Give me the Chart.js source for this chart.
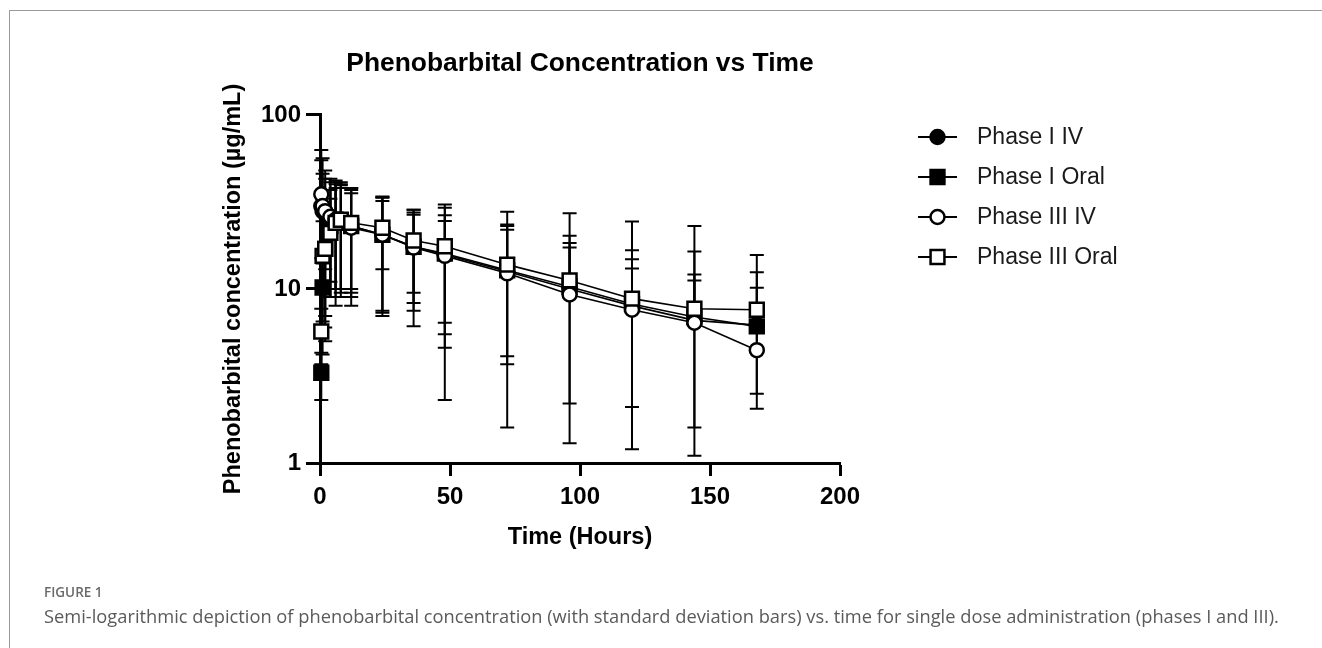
<!DOCTYPE html>
<html>
<head>
<meta charset="utf-8">
<script src="https://cdn.jsdelivr.net/npm/chart.js@4.4.1/dist/chart.umd.min.js"></script>
<style>
  html, body { margin: 0; padding: 0; background: #fff; }
  #wrap { position: relative; width: 1322px; height: 648px; overflow: hidden; }
  #frame { position: absolute; left: 9px; top: 10px; width: 1320px; height: 650px;
           border-top: 1.5px solid #9a9a9a; border-left: 1.5px solid #9a9a9a; }
  #chart { position: absolute; left: 0; top: 0; }
  #fig { position: absolute; left: 44px; top: 583px; font: 600 13.5px "Open Sans", sans-serif; color: #6a6a6a; }
  #cap { position: absolute; left: 44px; top: 603px; font: 18.3px "Open Sans", sans-serif; color: #5a5a5a; white-space: nowrap; }
</style>
</head>
<body>
<div id="wrap">
  <div id="frame"></div>
  <canvas id="chart" width="1322" height="648"></canvas>
  <div id="fig">FIGURE 1</div>
  <div id="cap">Semi-logarithmic depiction of phenobarbital concentration (with standard deviation bars) vs. time for single dose administration (phases I and III).</div>
</div>
<script>
// ---------- data ----------
const timeHours = [0.5, 1, 2, 4, 6, 8, 12, 24, 36, 48, 72, 96, 120, 144, 168];
const seriesNames = ['Phase I IV', 'Phase I Oral', 'Phase III IV', 'Phase III Oral'];

const phase1IVMean   = [30, 28, 27, 26, 25, 25, 23, 20.5, 17.5, 15.8, 12.6, 10.0, 8.0, 6.6, 6.2];
const phase1IVSD     = [33, 28.5, 21, 17, 17, 16, 15, 13.2, 9.2, 13.5, 15.2, 10.2, 6.8, 5.5, 6.3];

const phase1OralMean = [3.3, 10.2, 17, 23, 25, 24.5, 23, 20.5, 17.5, 16.0, 12.8, 10.3, 8.2, 6.9, 6.1];
const phase1OralSD   = [1.0, 6, 12, 14, 16, 15, 14, 13.5, 10, 10.5, 9.1, 8.1, 8.5, 9.5, 4.05];

const phase3IVMean   = [35, 30, 28, 26, 25, 24, 22.5, 20.5, 17.3, 15.5, 12.3, 9.3, 7.6, 6.4, 4.45];
const phase3IVSD     = [20, 16, 15, 15, 15, 14, 13, 13, 11.2, 9.1, 10.7, 8.0, 5.5, 4.8, 1.95];

const phase3OralMean = [5.7, 15.5, 17, 21, 24, 25, 24, 22.5, 19, 17.6, 13.8, 11.2, 8.8, 7.7, 7.6];
const phase3OralSD   = [2, 9, 10, 12, 14, 15, 14, 9.5, 9.5, 13, 9.7, 16, 15.6, 15.3, 8.1];

const xTickValues = [0, 50, 100, 150, 200];
const xTickLabels = ['0', '50', '100', '150', '200'];
const yTickValues = [1, 10, 100];
const yTickLabels = ['1', '10', '100'];

// ---------- styling ----------
const FONT = '"Liberation Sans", Arial, Helvetica, sans-serif';
const markerStyles = [
  { pointStyle: 'circle', radius: 7,   fill: '#000000' },
  { pointStyle: 'rect',   radius: 9.8, fill: '#000000' },
  { pointStyle: 'circle', radius: 7,   fill: '#ffffff' },
  { pointStyle: 'rect',   radius: 9.8, fill: '#ffffff' }
];
const meanSets = [phase1IVMean, phase1OralMean, phase3IVMean, phase3OralMean];
const sdSets   = [phase1IVSD, phase1OralSD, phase3IVSD, phase3OralSD];

const datasets = seriesNames.map((name, k) => ({
  label: name,
  data: timeHours.map((t, i) => ({ x: t, y: meanSets[k][i] })),
  sd: sdSets[k],
  order: 3 - k,
  clip: false,
  showLine: true,
  tension: 0,
  borderColor: '#000',
  borderWidth: 1.6,
  pointStyle: markerStyles[k].pointStyle,
  pointRadius: markerStyles[k].radius,
  pointHoverRadius: markerStyles[k].radius,
  pointBackgroundColor: markerStyles[k].fill,
  pointBorderColor: '#000',
  pointBorderWidth: 2.5,
  fill: false
}));

// error bars (mean ± SD) drawn through the chart scales
const errorBars = {
  id: 'errorBars',
  beforeDatasetsDraw(chart) {
    const { ctx, chartArea: a, scales: { x, y } } = chart;
    ctx.save();
    ctx.beginPath();
    ctx.rect(a.left - 30, a.top - 5, a.right - a.left + 60, a.bottom - a.top + 5);
    ctx.clip();
    ctx.strokeStyle = '#000';
    ctx.lineWidth = 2;
    const cap = 7;
    chart.data.datasets.forEach(ds => {
      ds.data.forEach((p, i) => {
        const s = ds.sd[i];
        const px = x.getPixelForValue(p.x);
        const pm = y.getPixelForValue(p.y);
        const pu = y.getPixelForValue(p.y + s);
        ctx.beginPath();
        ctx.moveTo(px, pm); ctx.lineTo(px, pu);
        ctx.moveTo(px - cap, pu); ctx.lineTo(px + cap, pu);
        if (p.y - s > 0) {
          const pl = y.getPixelForValue(p.y - s);
          ctx.moveTo(px, pm); ctx.lineTo(px, pl);
          ctx.moveTo(px - cap, pl); ctx.lineTo(px + cap, pl);
        }
        ctx.stroke();
      });
    });
    ctx.restore();
  }
};

function drawMarker(ctx, st, cx, cy) {
  ctx.beginPath();
  if (st.pointStyle === 'circle') {
    ctx.arc(cx, cy, st.radius, 0, Math.PI * 2);
  } else {
    const h = st.radius * Math.SQRT1_2;
    ctx.rect(cx - h, cy - h, 2 * h, 2 * h);
  }
  ctx.fillStyle = st.fill;
  ctx.fill();
  ctx.lineWidth = 2.5;
  ctx.strokeStyle = '#000';
  ctx.stroke();
}

// legend at the right: line + marker + label
const sideLegend = {
  id: 'sideLegend',
  afterDraw(chart) {
    const ctx = chart.ctx;
    const x0 = 918, x1 = 957, tx = 977, top = 137, gap = 40;
    ctx.save();
    chart.data.datasets.forEach((ds, k) => {
      const cy = top + k * gap;
      ctx.beginPath();
      ctx.moveTo(x0, cy); ctx.lineTo(x1, cy);
      ctx.lineWidth = 2; ctx.strokeStyle = '#000'; ctx.stroke();
      drawMarker(ctx, markerStyles[k], (x0 + x1) / 2, cy);
      ctx.font = '23px ' + FONT;
      ctx.fillStyle = '#1a1a1a';
      ctx.textBaseline = 'middle';
      ctx.textAlign = 'left';
      ctx.fillText(ds.label, tx, cy + 1);
    });
    ctx.restore();
  }
};

new Chart(document.getElementById('chart'), {
  type: 'line',
  data: { datasets },
  plugins: [errorBars, sideLegend],
  options: {
    responsive: false,
    animation: false,
    events: [],
    layout: { padding: { left: 0, right: 482, top: 0, bottom: 85 } },
    plugins: {
      legend: { display: false },
      tooltip: { enabled: false },
      title: {
        display: true,
        fullSize: false,
        text: 'Phenobarbital Concentration vs Time',
        color: '#000',
        font: { family: FONT, size: 26.4, weight: 'bold', lineHeight: 1.2 },
        padding: { top: 48.2, bottom: 35.1 }
      }
    },
    scales: {
      x: {
        type: 'linear',
        min: 0, max: 200,
        afterFit(s) { s.height = 100; },
        afterBuildTicks(s) { s.ticks = xTickValues.map(v => ({ value: v })); },
        ticks: {
          callback: (v) => xTickLabels[xTickValues.indexOf(v)],
          color: '#000',
          font: { family: FONT, size: 24, weight: 'bold', lineHeight: 1.2 },
          padding: 7,
          maxRotation: 0
        },
        grid: { drawOnChartArea: false, drawTicks: true, tickLength: 13, tickWidth: 3, tickColor: '#000' },
        border: { display: true, width: 3, color: '#000' },
        title: {
          display: true,
          text: 'Time (Hours)',
          color: '#000',
          font: { family: FONT, size: 23.5, weight: 'bold', lineHeight: 1.2 },
          padding: { top: 0, bottom: 11 }
        }
      },
      y: {
        type: 'logarithmic',
        min: 1, max: 100,
        afterFit(s) { s.width = 320; },
        afterBuildTicks(s) { s.ticks = yTickValues.map(v => ({ value: v })); },
        ticks: {
          callback: (v) => yTickLabels[yTickValues.indexOf(v)],
          color: '#000',
          font: { family: FONT, size: 24, weight: 'bold', lineHeight: 1.2 },
          padding: 5
        },
        grid: { drawOnChartArea: false, drawTicks: true, tickLength: 14, tickWidth: 3, tickColor: '#000' },
        border: { display: true, width: 3, color: '#000' },
        title: {
          display: true,
          text: 'Phenobarbital concentration (µg/mL)',
          color: '#000',
          font: { family: FONT, size: 23.5, weight: 'bold', lineHeight: 1.2 },
          padding: { top: 219.4, bottom: 0 }
        }
      }
    }
  }
});
</script>
</body>
</html>
